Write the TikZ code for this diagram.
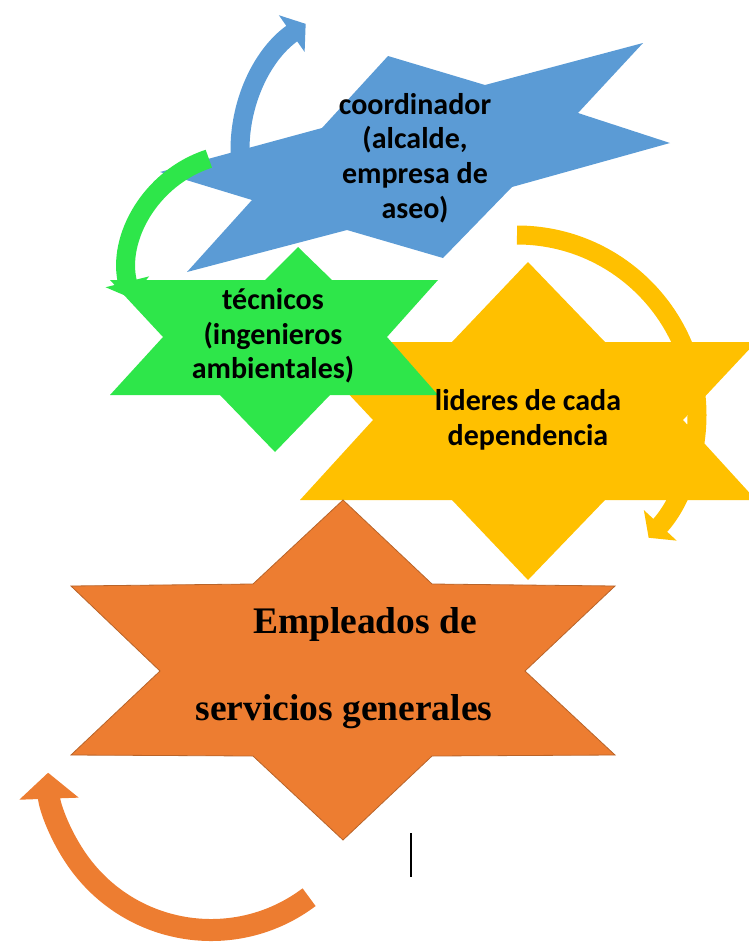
\documentclass[tikz,border=0pt]{standalone}
\usepackage{fontspec}
\setmainfont{Carlito}
\newfontfamily\serifbold{Liberation Serif}
\usetikzlibrary{arrows.meta}

\definecolor{azul}{HTML}{5B9BD5}
\definecolor{verde}{HTML}{2EE64A}
\definecolor{amarillo}{HTML}{FFC000}
\definecolor{naranja}{HTML}{ED7D31}
\definecolor{naranjaborde}{HTML}{B8642A}

\tikzset{
	flecha/.style={line width=19pt, -{Triangle[width=44pt,length=17pt]}},
	flechagrande/.style={line width=22pt, -{Triangle[width=58pt,length=26pt]}},
	texto/.style={align=center, inner sep=0pt, font=\bfseries\fontsize{30}{34.7}\selectfont},
	textoserif/.style={align=center, inner sep=0pt, font=\serifbold\bfseries\fontsize{37.5}{87}\selectfont},
}

\begin{document}
\begin{tikzpicture}[x=1pt, y=-1pt]
\useasboundingbox (0,0) rectangle (748,945);

%% Coordinador
\draw[flecha, azul] (394,150) ++(175:154) arc[start angle=175, end angle=235, radius=154];
\fill[azul] (388,56) -- (485,85) -- (643,43) -- (578,113) -- (670,143) -- (512,187)
	-- (443,258) -- (347,230) -- (187,272) -- (252,200) -- (160,172) -- (322,128) -- cycle;

%% Lideres
\fill[amarillo] (528,262) -- (605,342) -- (756,342) -- (683,420) -- (756,500) -- (605,500)
	-- (528,580) -- (452,500) -- (300,500) -- (373,420) -- (300,342) -- (452,342) -- cycle;
\draw[flecha, amarillo] (517,415) ++(270:180) arc[start angle=270, end angle=403, radius=180];

%% Tecnicos
\draw[flecha, verde] (245,270) ++(252:117) arc[start angle=252, end angle=166, radius=117];
\fill[verde] (298,247) -- (332,280) -- (438,280) -- (387,337) -- (438,395) -- (330,395)
	-- (275,452) -- (220,395) -- (110,395) -- (163,337) -- (110,280) -- (265,280) -- cycle;

%% Empleados
\filldraw[fill=naranja, draw=naranjaborde, line width=0.8pt] (343,500) -- (432,584) -- (615,586)
	-- (525,671) -- (615,755) -- (432,756) -- (343,840) -- (253,756) -- (71,755) -- (160,671)
	-- (71,586) -- (253,584) -- cycle;
\draw[flechagrande, naranja] (211,767) ++(53:163) arc[start angle=53, end angle=178, radius=163];

%% Textos
\node[texto] (coord) at (415,158) {coordinador\\(alcalde,\\empresa de\\aseo)};
\node[texto] (tecnicos) at (273,336) {técnicos\\(ingenieros\\ambientales)};
\node[texto] (lideres) at (528,420) {lideres de cada\\dependencia};
\node[textoserif] (empleados) at (344,668) {\hspace*{42pt}Empleados de\\servicios generales};

%% Cursor
\draw[line width=1.5pt] (411,833) -- (411,877);

\end{tikzpicture}
\end{document}
